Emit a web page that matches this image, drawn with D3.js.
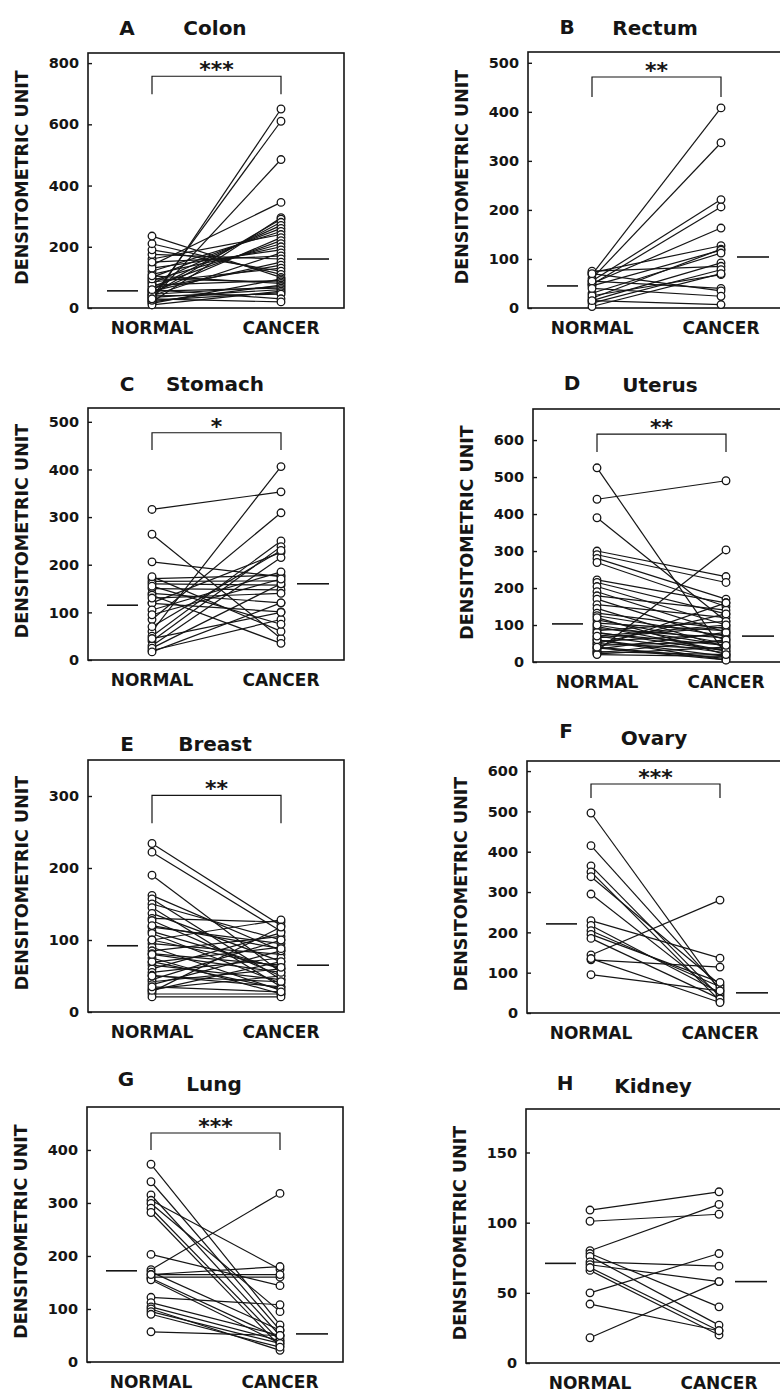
<!DOCTYPE html>
<html>
<head>
<meta charset="utf-8">
<script src="https://d3js.org/d3.v7.min.js"></script>
<style>
  body { margin: 0; background: #fff; }
  svg text { font-family: "DejaVu Sans", Arial, sans-serif; font-weight: bold; fill: #151515; }
  .tick text { font-size: 14.5px; }
</style>
</head>
<body>
<div id="chart"></div>
<script>
// ---- data (densitometric units) ----
var groups = ["NORMAL", "CANCER"];

var colonNormal = [25, 35, 30, 140, 20, 45, 60, 80, 100, 120, 160, 50, 70, 90, 110, 130, 40, 150, 175, 55, 65, 85, 190, 210, 235, 15, 75, 95, 105, 20, 45, 55, 35, 10, 25, 40, 60, 30];
var colonCancer = [650, 610, 485, 345, 295, 290, 280, 270, 260, 250, 240, 230, 220, 210, 200, 190, 180, 170, 160, 150, 140, 130, 120, 110, 100, 95, 90, 85, 80, 75, 70, 65, 60, 55, 50, 45, 30, 20];

var rectumNormal = [68, 60, 55, 48, 50, 72, 20, 45, 30, 15, 75, 10, 25, 3, 55, 70, 40, 15];
var rectumCancer = [408, 337, 221, 206, 163, 127, 120, 118, 112, 92, 85, 78, 68, 70, 40, 35, 24, 7];

var stomachNormal = [316, 264, 206, 60, 85, 50, 40, 120, 30, 171, 165, 160, 150, 140, 175, 136, 119, 105, 20, 25, 70, 95, 17, 45, 130, 155];
var stomachCancer = [353, 45, 175, 406, 309, 250, 238, 226, 215, 178, 166, 157, 147, 120, 60, 35, 101, 185, 85, 160, 230, 170, 120, 100, 140, 75];

var uterusNormal = [525, 440, 390, 300, 290, 280, 269, 222, 215, 204, 190, 179, 170, 155, 145, 132, 125, 114, 105, 96, 90, 85, 78, 70, 65, 60, 56, 50, 45, 40, 38, 35, 30, 28, 25, 22, 20, 50, 60, 80, 100, 120, 70, 40];
var uterusCancer = [20, 490, 110, 231, 215, 170, 150, 160, 130, 100, 80, 140, 60, 120, 40, 90, 70, 50, 85, 30, 65, 110, 45, 25, 95, 15, 75, 35, 55, 10, 6, 80, 303, 20, 60, 40, 15, 130, 5, 30, 45, 20, 100, 160];

var breastNormal = [234, 222, 190, 162, 157, 150, 145, 137, 130, 127, 118, 112, 109, 100, 95, 90, 85, 81, 75, 69, 65, 60, 55, 51, 45, 42, 38, 32, 28, 25, 21, 30, 50, 70, 80, 100, 120, 35];
var breastCancer = [120, 112, 55, 85, 45, 100, 35, 70, 125, 50, 95, 60, 40, 128, 80, 30, 105, 65, 25, 90, 45, 110, 75, 35, 100, 60, 85, 50, 118, 25, 21, 70, 42, 32, 55, 62, 88, 28];

var ovaryNormal = [496, 415, 365, 350, 338, 295, 229, 217, 204, 195, 185, 144, 132, 95, 135];
var ovaryCancer = [55, 60, 40, 30, 70, 45, 136, 50, 65, 76, 35, 280, 114, 55, 26];

var lungNormal = [373, 340, 315, 305, 299, 290, 282, 203, 174, 170, 165, 160, 158, 155, 122, 112, 104, 100, 95, 90, 57, 165];
var lungCancer = [70, 60, 50, 175, 95, 40, 30, 144, 318, 60, 180, 160, 45, 35, 108, 50, 40, 22, 35, 28, 50, 165];

var kidneyNormal = [109, 101, 80, 78, 76, 72, 70, 66, 68, 50, 42, 18];
var kidneyCancer = [122, 106, 113, 40, 27, 69, 58, 20, 23, 78, 23, 58];

var panelLetters = ["A", "B", "C", "D", "E", "F", "G", "H"];
var panelNames = ["Colon", "Rectum", "Stomach", "Uterus", "Breast", "Ovary", "Lung", "Kidney"];
var stars = ["***", "**", "*", "**", "**", "***", "***", ""];
var meanNormal = [56, 45, 115, 103, 92, 221, 172, 71];
var meanCancer = [160, 104, 160, 70, 65, 50, 53, 58];
var bracketTop = [757, 471, 477, 616, 301, 568, 432, null];
var bracketEnd = [698, 430, 441, 568, 262, 533, 400, null];
var yMax = [833, 522, 529, 684, 350, 625, 481, 181];
var tickValues = [
  [0, 200, 400, 600, 800],
  [0, 100, 200, 300, 400, 500],
  [0, 100, 200, 300, 400, 500],
  [0, 100, 200, 300, 400, 500, 600],
  [0, 100, 200, 300],
  [0, 100, 200, 300, 400, 500, 600],
  [0, 100, 200, 300, 400],
  [0, 50, 100, 150]
];
var normalSeries = [colonNormal, rectumNormal, stomachNormal, uterusNormal, breastNormal, ovaryNormal, lungNormal, kidneyNormal];
var cancerSeries = [colonCancer, rectumCancer, stomachCancer, uterusCancer, breastCancer, ovaryCancer, lungCancer, kidneyCancer];

// ---- layout (pixels) ----
var frames = [
  { left: 88,  top: 53,   bottom: 308,  letterY: 27,   nameY: 27 },
  { left: 528, top: 52,   bottom: 308,  letterY: 26,   nameY: 27 },
  { left: 88,  top: 408,  bottom: 660,  letterY: 383,  nameY: 383 },
  { left: 533, top: 409,  bottom: 662,  letterY: 382,  nameY: 384 },
  { left: 88,  top: 760,  bottom: 1012, letterY: 743,  nameY: 743 },
  { left: 527, top: 761,  bottom: 1013, letterY: 730,  nameY: 737 },
  { left: 87,  top: 1107, bottom: 1362, letterY: 1078, nameY: 1083 },
  { left: 526, top: 1109, bottom: 1363, letterY: 1082, nameY: 1085 }
];
var frameW = 256;

var svg = d3.select("#chart").append("svg")
  .attr("width", 780)
  .attr("height", 1392);

var ink = "#151515";

frames.forEach(function(f, i) {
  var g = svg.append("g").attr("transform", "translate(" + f.left + ",0)");

  var y = d3.scaleLinear().domain([0, yMax[i]]).range([f.bottom, f.top]);
  var x = d3.scalePoint().domain(groups).range([64, 193]);

  // frame
  g.append("rect")
    .attr("x", 0).attr("y", f.top)
    .attr("width", frameW).attr("height", f.bottom - f.top)
    .attr("fill", "none").attr("stroke", ink).attr("stroke-width", 1.6);

  // y axis
  var ax = g.append("g")
    .call(d3.axisLeft(y).tickValues(tickValues[i]).tickSizeInner(-4).tickSizeOuter(0).tickPadding(9));
  ax.select(".domain").remove();
  ax.selectAll("line").attr("stroke", ink).attr("stroke-width", 1.4);
  ax.selectAll("text").attr("fill", ink);

  // y label
  g.append("text")
    .attr("transform", "translate(-60," + ((f.top + f.bottom) / 2 - 3) + ") rotate(-90)")
    .attr("text-anchor", "middle")
    .style("font-size", "17.5px")
    .text("DENSITOMETRIC UNIT");

  // x labels
  g.selectAll(".xl").data(groups).enter().append("text")
    .attr("x", function(d) { return x(d); })
    .attr("y", f.bottom + 26)
    .attr("text-anchor", "middle")
    .style("font-size", "17px")
    .text(function(d) { return d; });

  // title
  g.append("text").attr("x", 39).attr("y", f.letterY + 7.5)
    .attr("text-anchor", "middle").style("font-size", "20px").text(panelLetters[i]);
  g.append("text").attr("x", 127).attr("y", f.nameY + 7.5)
    .attr("text-anchor", "middle").style("font-size", "20px").text(panelNames[i]);

  // paired lines
  var pairs = normalSeries[i].map(function(v, k) { return [v, cancerSeries[i][k]]; });
  g.selectAll(".pair").data(pairs).enter().append("line")
    .attr("x1", x("NORMAL")).attr("x2", x("CANCER"))
    .attr("y1", function(d) { return y(d[0]); })
    .attr("y2", function(d) { return y(d[1]); })
    .attr("stroke", ink).attr("stroke-width", 1.2);

  // points
  groups.forEach(function(grp, gi) {
    var vals = gi === 0 ? normalSeries[i] : cancerSeries[i];
    g.selectAll(".pt" + gi).data(vals).enter().append("circle")
      .attr("cx", x(grp))
      .attr("cy", function(d) { return y(d); })
      .attr("r", 3.8)
      .attr("fill", "#fff").attr("stroke", ink).attr("stroke-width", 1.3);
  });

  // mean bars
  g.append("line")
    .attr("x1", x("NORMAL") - 45).attr("x2", x("NORMAL") - 14)
    .attr("y1", y(meanNormal[i])).attr("y2", y(meanNormal[i]))
    .attr("stroke", ink).attr("stroke-width", 1.6);
  g.append("line")
    .attr("x1", x("CANCER") + 16).attr("x2", x("CANCER") + 48)
    .attr("y1", y(meanCancer[i])).attr("y2", y(meanCancer[i]))
    .attr("stroke", ink).attr("stroke-width", 1.6);

  // significance bracket
  if (bracketTop[i] !== null) {
    var bt = y(bracketTop[i]), be = y(bracketEnd[i]);
    g.append("path")
      .attr("d", "M" + x("NORMAL") + "," + be + "V" + bt + "H" + x("CANCER") + "V" + be)
      .attr("fill", "none").attr("stroke", ink).attr("stroke-width", 1.2);
    g.append("text")
      .attr("x", (x("NORMAL") + x("CANCER")) / 2)
      .attr("y", bt + 1)
      .attr("text-anchor", "middle")
      .style("font-size", "22px")
      .text(stars[i]);
  }
});
</script>
</body>
</html>
